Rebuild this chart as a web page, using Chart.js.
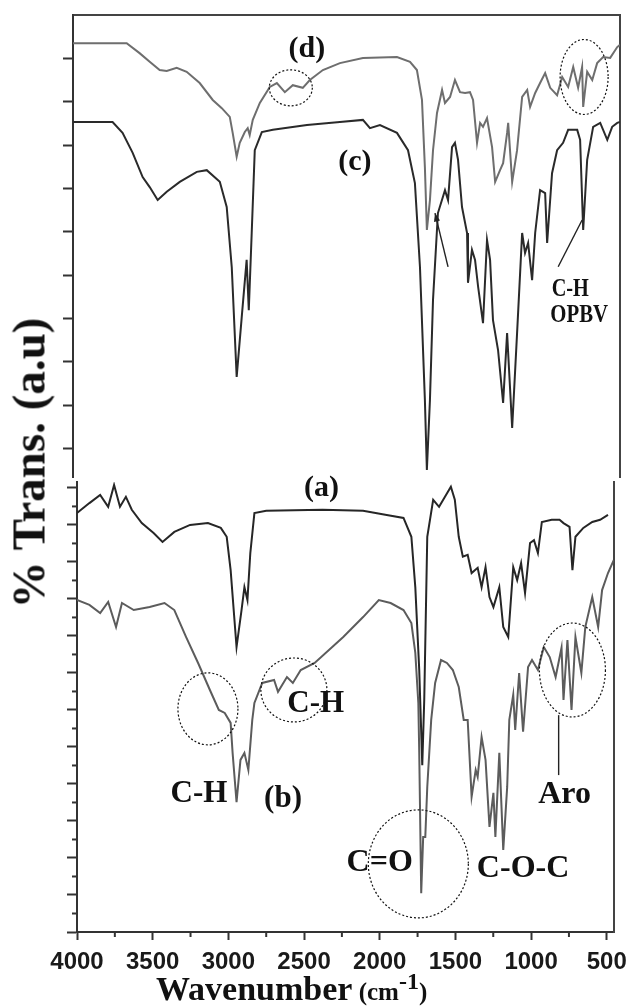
<!DOCTYPE html>
<html>
<head>
<meta charset="utf-8">
<script src="https://cdn.jsdelivr.net/npm/chart.js@4.4.1/dist/chart.umd.min.js"></script>
<style>
  html, body { margin: 0; padding: 0; background: #fff; }
  #wrap { position: relative; width: 635px; height: 1007px; overflow: hidden; background: #fff; }
  canvas { position: absolute; left: 0; }
  #cTop { top: 0; }
  #cBot { top: 468px; }
  #ytitle {
    position: absolute; left: 29px; top: 463px;
    transform: translate(-50%, -50%) rotate(-90deg);
    font-family: "Liberation Serif", "DejaVu Serif", serif; font-weight: bold;
    font-size: 47px; line-height: 47px; white-space: nowrap; color: #111;
  }
  #xtitle {
    position: absolute; left: 156px; top: 972px;
    font-family: "Liberation Serif", "DejaVu Serif", serif; font-weight: bold;
    font-size: 34px; line-height: 34px; white-space: nowrap; color: #111;
  }
  #xtitle .u { font-size: 25px; }
  #xtitle sup { font-size: 24px; vertical-align: 11px; line-height: 0; }
</style>
</head>
<body>
<div id="wrap">
  <canvas id="cTop" width="635" height="480"></canvas>
  <canvas id="cBot" width="635" height="539"></canvas>
  <div id="ytitle">% Trans. (a.u)</div>
  <div id="xtitle">Wavenumber<span class="u"> (cm<sup>-1</sup>)</span></div>
</div>
<script>
// ---------------- data (wavenumber in cm-1, transmittance in arbitrary units) ----------------
// (d) – top panel, upper trace
const dWn = [4020,3670,3586,3520,3455,3409,3344,3279,3194,3109,3050,2998,2979,2953,2933,2900,2881,2868,2848,2802,2737,2691,2639,2587,2522,2476,2391,2280,2130,1908,1823,1778,1745,1726,1713,1693,1673,1647,1614,1595,1562,1530,1497,1464,1432,1412,1386,1366,1347,1321,1288,1268,1236,1216,1190,1183,1157,1125,1092,1059,1040,1007,975,942,909,864,831,792,759,727,701,694,668,635,603,564,518,472,454];
const dT  = [93.5,93.5,91.2,89.2,87.3,87.1,87.8,86.9,84.3,80.4,78.5,76.5,72.8,67.3,70.5,73.0,73.9,72.3,75.8,79.7,83.4,84.3,82.2,83.8,83.2,85.0,87.3,88.9,90.1,90.3,89.2,87.3,80.4,64.9,50.4,57.3,68.8,77.4,82.7,79.7,81.1,85.0,82.2,82.0,82.2,80.4,70.5,75.1,74.2,76.2,69.5,61.5,64.2,65.8,72.8,75.1,61.5,68.8,81.1,82.7,78.8,82.0,84.3,86.6,83.2,81.5,85.7,83.4,88.0,83.2,88.0,78.8,86.9,85.0,88.9,90.3,90.1,92.6,93.1];

// (c) – top panel, lower trace
const cWn = [4020,3762,3697,3631,3566,3520,3468,3409,3324,3213,3148,3063,3018,2985,2953,2920,2888,2874,2855,2835,2789,2717,2495,2280,2130,2084,2019,1908,1836,1791,1758,1726,1713,1693,1673,1641,1595,1575,1549,1530,1510,1484,1451,1445,1419,1399,1379,1347,1321,1301,1282,1249,1216,1190,1157,1125,1092,1073,1053,1027,1007,975,942,929,897,864,825,792,733,714,694,668,629,583,537,505,472,454];
const cT  = [75.3,75.3,72.8,68.2,62.6,60.3,57.3,59.2,61.5,63.8,64.2,61.5,55.7,41.8,16.5,30.3,43.5,31.9,49.7,68.8,73.0,73.5,74.6,75.3,75.8,73.9,74.6,72.8,68.8,61.2,41.8,11.2,-5.0,11.2,34.3,54.3,59.6,57.3,69.5,70.5,66.6,55.7,49.7,38.2,45.8,43.5,37.3,28.9,48.1,43.5,29.6,22.7,10.5,26.6,4.7,26.6,49.7,45.1,47.4,38.8,49.7,59.6,58.9,47.4,63.5,68.8,70.5,73.5,73.5,71.2,50.4,66.6,74.2,75.1,71.2,74.2,75.1,75.3];

// (a) – bottom panel, upper trace
const aWn = [4000,3918,3847,3794,3755,3716,3677,3638,3572,3494,3435,3357,3253,3135,3050,3011,2985,2946,2913,2894,2874,2855,2828,2750,2378,2110,1954,1843,1791,1765,1739,1719,1706,1686,1647,1608,1569,1530,1504,1478,1451,1419,1393,1353,1327,1301,1275,1249,1210,1184,1151,1118,1092,1066,1040,1007,981,955,929,864,812,786,746,727,707,655,596,544,492];
const aT  = [113.2,115.9,118.1,114.9,120.8,114.9,117.6,114.1,110.5,107.8,105.4,108.1,110.0,110.5,109.2,106.8,97.8,77.0,87.0,93.2,89.7,102.4,113.2,113.8,114.1,113.8,112.7,111.9,106.8,93.2,70.8,45.1,62.7,106.8,116.8,114.9,117.6,120.3,116.8,106.8,101.4,101.9,97.0,98.4,93.2,98.6,90.5,87.8,93.2,82.4,79.7,98.6,95.1,99.7,91.6,105.1,105.9,102.4,110.8,111.4,111.4,110.5,109.5,97.8,106.8,109.2,110.8,111.4,112.7];

// (b) – bottom panel, lower trace
const bWn = [4000,3918,3847,3794,3742,3703,3625,3520,3422,3357,3279,3200,3122,3063,3024,2985,2972,2946,2920,2894,2868,2842,2828,2776,2698,2672,2613,2574,2522,2430,2241,2110,2006,1928,1843,1791,1765,1745,1739,1726,1713,1699,1686,1660,1634,1595,1556,1517,1478,1445,1419,1393,1366,1353,1327,1301,1275,1249,1236,1210,1184,1158,1144,1118,1105,1079,1053,1020,994,955,916,877,838,799,786,760,733,707,668,642,596,557,531,492,454];
const bT  = [89.7,88.4,86.2,89.2,82.4,88.9,87.0,87.8,88.9,87.0,79.7,72.7,65.4,60.0,59.2,56.5,48.4,35.1,46.5,48.4,43.8,57.3,61.9,67.3,68.1,64.9,68.9,67.3,70.8,72.7,79.7,85.1,89.7,88.9,87.0,83.5,75.4,61.9,48.4,10.5,25.7,25.7,39.2,57.3,67.3,73.5,72.7,70.8,66.2,57.3,57.3,36.5,43.8,41.9,52.7,46.5,28.4,37.6,25.7,48.4,22.2,39.2,57.3,64.1,54.6,70.0,54.1,71.6,73.5,70.8,77.0,74.3,68.9,76.8,62.7,78.9,60.0,79.7,70.0,82.4,90.5,82.4,92.4,97.0,100.5];

// axis ticks
const xTickValues   = [4000,3500,3000,2500,2000,1500,1000,500];
const xMinorValues  = [3750,3250,2750,2250,1750,1250,750];
const yTopTicks     = [0,10,20,30,40,50,60,70,80,90];
const yBotTicks     = [0,10,20,30,40,50,60,70,80,90,100,110,120];
const yBotMinor     = [5,15,25,35,45,55,65,75,85,95,105,115];

// annotation labels (text only)
const labelsTop = ['(d)','(c)','C-H','OPBV'];
const labelsBot = ['(a)','C-H','(b)','C-H','C=O','C-O-C','Aro'];

// ---------------- helpers ----------------
function pts(wn, v) {
  const n = Math.min(wn.length, v.length);
  const out = [];
  for (let i = 0; i < n; i++) out.push({x: wn[i], y: v[i]});
  return out;
}
const SERIF = '"Liberation Serif", "DejaVu Serif", serif';
const SANS = '"Liberation Sans", Arial, sans-serif';

// annotation plugin: positions are given in data coordinates and mapped through the chart scales
const annotPlugin = {
  id: 'annot',
  afterDraw(chart, args, opts) {
    const ctx = chart.ctx;
    const xs = chart.scales.x, ys = chart.scales.y;
    const X = v => xs.getPixelForValue(v), Y = v => ys.getPixelForValue(v);
    ctx.save();
    // minor ticks
    (opts.xMinor || []).forEach(v => {
      const px = X(v);
      ctx.beginPath(); ctx.strokeStyle = '#333'; ctx.lineWidth = 2;
      ctx.moveTo(px, chart.chartArea.bottom); ctx.lineTo(px, chart.chartArea.bottom + 5); ctx.stroke();
    });
    (opts.yMinor || []).forEach(v => {
      const py = Y(v);
      ctx.beginPath(); ctx.strokeStyle = '#333'; ctx.lineWidth = 2;
      ctx.moveTo(chart.chartArea.left, py); ctx.lineTo(chart.chartArea.left - 5, py); ctx.stroke();
    });
    // ellipses (dotted)
    (opts.ellipses || []).forEach(e => {
      ctx.beginPath(); ctx.setLineDash([2, 2]); ctx.strokeStyle = '#111'; ctx.lineWidth = 1.2;
      ctx.ellipse(X(e.x), Y(e.y), e.rx, e.ry, 0, 0, Math.PI * 2); ctx.stroke();
      ctx.setLineDash([]);
    });
    // leader lines / arrows
    (opts.lines || []).forEach(l => {
      const x1 = X(l.x1), y1 = Y(l.y1), x2 = X(l.x2), y2 = Y(l.y2);
      ctx.beginPath(); ctx.strokeStyle = '#222'; ctx.lineWidth = 1.4;
      ctx.moveTo(x1, y1); ctx.lineTo(x2, y2); ctx.stroke();
      if (l.head) {
        const a = Math.atan2(y2 - y1, x2 - x1), h = 9;
        ctx.beginPath(); ctx.fillStyle = '#222';
        ctx.moveTo(x2, y2);
        ctx.lineTo(x2 - h * Math.cos(a - 0.35), y2 - h * Math.sin(a - 0.35));
        ctx.lineTo(x2 - h * Math.cos(a + 0.35), y2 - h * Math.sin(a + 0.35));
        ctx.closePath(); ctx.fill();
      }
    });
    // text labels, centred on the given point
    (opts.texts || []).forEach(t => {
      ctx.save();
      ctx.font = 'bold ' + t.size + 'px ' + SERIF;
      ctx.fillStyle = '#111';
      ctx.textAlign = 'center'; ctx.textBaseline = 'alphabetic';
      const m = ctx.measureText(t.t);
      const off = (m.actualBoundingBoxAscent - m.actualBoundingBoxDescent) / 2;
      ctx.translate(X(t.x), Y(t.y) + off);
      ctx.scale(t.sx || 1, 1);
      ctx.fillText(t.t, 0, 0);
      ctx.restore();
    });
    ctx.restore();
  }
};

function frameAxis(pos, min, max, reverse) {
  return {
    type: 'linear', position: pos, min: min, max: max, reverse: !!reverse,
    grid: { display: false, drawTicks: false },
    ticks: { display: false },
    border: { display: true, color: '#444', width: 2 },
    afterFit(s) { if (pos === 'top' || pos === 'bottom') s.height = 0; else s.width = 0; }
  };
}

const LW = 2;

// ---------------- top panel: (d) and (c) ----------------
new Chart(document.getElementById('cTop'), {
  type: 'line',
  data: {
    datasets: [
      { label: '(d)', data: pts(dWn, dT), borderColor: '#6e6e6e', borderWidth: LW, pointRadius: 0, tension: 0, fill: false },
      { label: '(c)', data: pts(cWn, cT), borderColor: '#2a2a2a', borderWidth: LW, pointRadius: 0, tension: 0, fill: false }
    ]
  },
  options: {
    responsive: false, animation: false, devicePixelRatio: 1,
    layout: { padding: { top: 15, right: 15, bottom: 3, left: 0 } },
    plugins: {
      legend: { display: false }, tooltip: { enabled: false },
      annot: {
        texts: [
          { t: labelsTop[0], x: 2495, y: 91.9, size: 30 },
          { t: labelsTop[1], x: 2182, y: 65.9, size: 30 },
          { t: labelsTop[2], x: 778, y: 37.2, size: 26, sx: 0.78 },
          { t: labelsTop[3], x: 720, y: 31.2, size: 26, sx: 0.8 }
        ],
        ellipses: [
          { x: 2600, y: 83.2, rx: 21.5, ry: 18 },
          { x: 688, y: 85.7, rx: 24, ry: 37.5 }
        ],
        lines: [
          { x1: 1575, y1: 41.9, x2: 1660, y2: 54.3, head: true },
          { x1: 857, y1: 41.9, x2: 701, y2: 52.7 }
        ]
      }
    },
    scales: {
      x: { type: 'linear', reverse: true, min: 454, max: 4020, display: false },
      xTop: frameAxis('top', 454, 4020, true),
      y: {
        type: 'linear', position: 'left', min: -6.6, max: 100,
        grid: { drawOnChartArea: false, drawTicks: true, tickLength: 10, tickWidth: 2, tickColor: '#333', color: '#333' },
        ticks: { display: false },
        border: { display: true, color: '#333', width: 2 },
        afterBuildTicks(s) { s.ticks = yTopTicks.map(v => ({ value: v })); },
        afterFit(s) { s.width = 73; }
      },
      yRight: frameAxis('right', -6.6, 100, false)
    }
  },
  plugins: [annotPlugin]
});

// ---------------- bottom panel: (a) and (b) ----------------
new Chart(document.getElementById('cBot'), {
  type: 'line',
  data: {
    datasets: [
      { label: '(a)', data: pts(aWn, aT), borderColor: '#262626', borderWidth: LW, pointRadius: 0, tension: 0, fill: false },
      { label: '(b)', data: pts(bWn, bT), borderColor: '#5c5c5c', borderWidth: LW, pointRadius: 0, tension: 0, fill: false }
    ]
  },
  options: {
    responsive: false, animation: false, devicePixelRatio: 1,
    layout: { padding: { top: 14, right: 15, bottom: 0, left: 0 } },
    plugins: {
      legend: { display: false }, tooltip: { enabled: false },
      annot: {
        xMinor: xMinorValues, yMinor: yBotMinor,
        texts: [
          { t: labelsBot[0], x: 2385, y: 119.7, size: 30 },
          { t: labelsBot[1], x: 3194, y: 38.1, size: 31 },
          { t: labelsBot[2], x: 2639, y: 35.9, size: 31 },
          { t: labelsBot[3], x: 2423, y: 62.2, size: 31 },
          { t: labelsBot[4], x: 2000, y: 19.2, size: 32 },
          { t: labelsBot[5], x: 1053, y: 17.6, size: 32 },
          { t: labelsBot[6], x: 779, y: 37.6, size: 32 }
        ],
        ellipses: [
          { x: 3135, y: 60.3, rx: 30, ry: 36 },
          { x: 2567, y: 65.4, rx: 33, ry: 32 },
          { x: 727, y: 70.8, rx: 33, ry: 47 },
          { x: 1745, y: 18.4, rx: 50, ry: 54 }
        ],
        lines: [
          { x1: 818, y1: 58.6, x2: 818, y2: 42.4 }
        ]
      }
    },
    scales: {
      x: {
        type: 'linear', position: 'bottom', reverse: true, min: 454, max: 4000,
        grid: { drawOnChartArea: false, drawTicks: true, tickLength: 8, tickWidth: 2, tickColor: '#333', color: '#333' },
        border: { display: true, color: '#333', width: 2 },
        ticks: {
          autoSkip: false, maxRotation: 0, padding: 8, color: '#1a1a1a',
          font: { family: SANS, size: 24, weight: 'bold' },
          callback: v => String(v)
        },
        afterBuildTicks(s) { s.ticks = xTickValues.map(v => ({ value: v })); },
        afterFit(s) { s.height = 75; }
      },
      y: {
        type: 'linear', position: 'left', min: 0, max: 121.6,
        grid: { drawOnChartArea: false, drawTicks: true, tickLength: 10, tickWidth: 2, tickColor: '#333', color: '#333' },
        ticks: { display: false },
        border: { display: true, color: '#333', width: 2 },
        afterBuildTicks(s) { s.ticks = yBotTicks.map(v => ({ value: v })); },
        afterFit(s) { s.width = 77; }
      },
      yRight: frameAxis('right', 0, 121.6, false)
    }
  },
  plugins: [annotPlugin]
});
</script>
</body>
</html>
